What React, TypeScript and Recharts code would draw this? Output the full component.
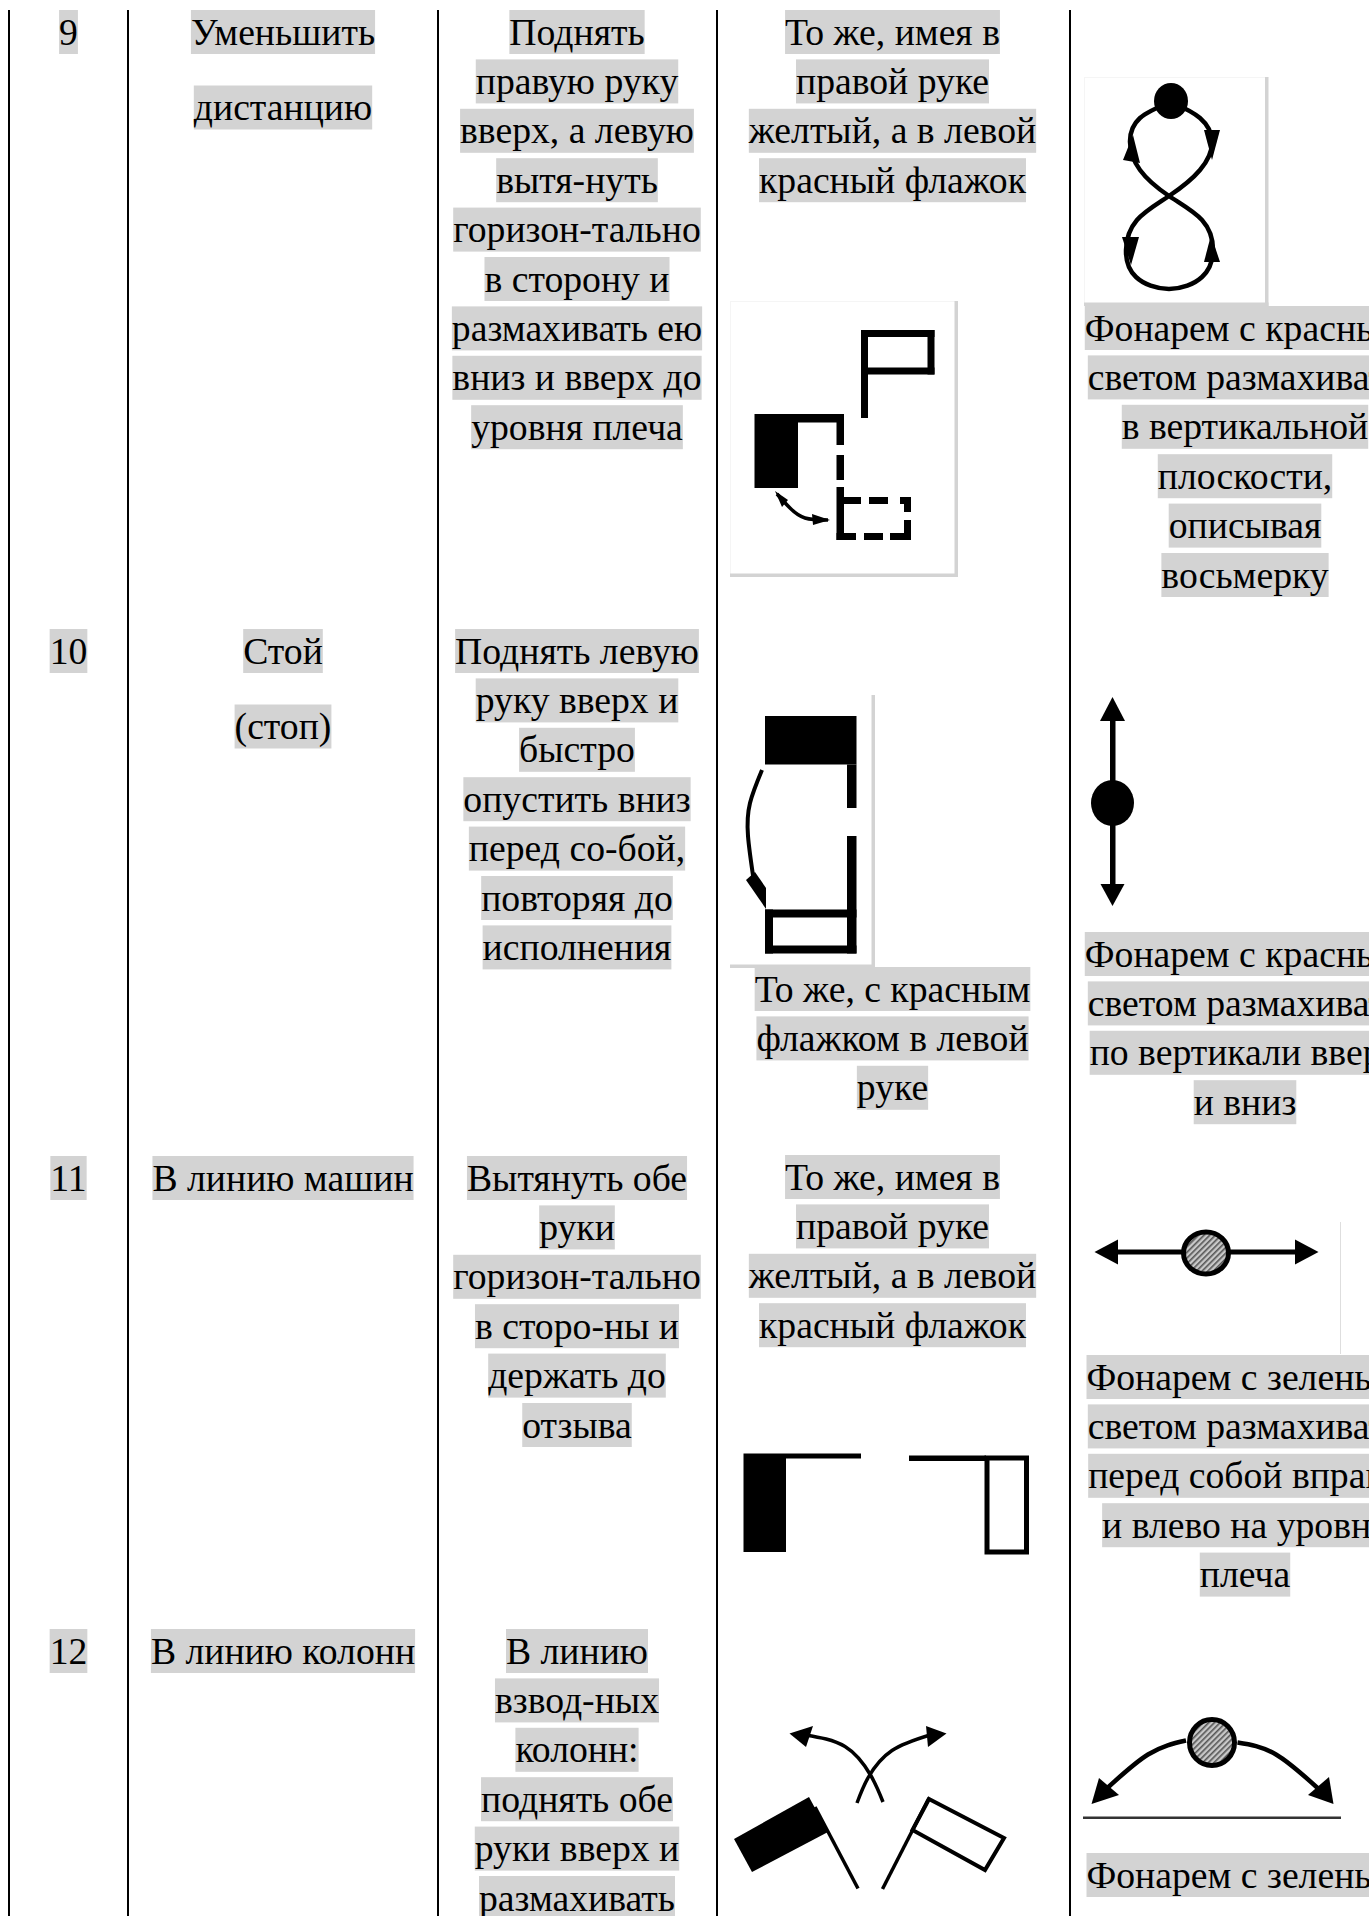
import { ComposedChart, Curve, ReferenceLine, Scatter, XAxis, YAxis } from "recharts";

const WIDTH = 1369;
const HEIGHT = 1916;
const FONT_SIZE = 37.7;
const FONT = `${FONT_SIZE}px "Liberation Serif"`;
const BOX_HEIGHT = 44;
const LINE_PITCH = 49.4;
const NAME_PITCH = 75.5;

// table text
const rowNumbers = ["9", "10", "11", "12"];
const signalNames = [
  ["Уменьшить", "дистанцию"],
  ["Стой", "(стоп)"],
  ["В линию машин"],
  ["В линию колонн"],
];
const handSignals = [
  ["Поднять", "правую руку", "вверх, а левую", "вытя-нуть", "горизон-тально", "в сторону и", "размахивать ею", "вниз и вверх до", "уровня плеча"],
  ["Поднять левую", "руку вверх и", "быстро", "опустить вниз", "перед со-бой,", "повторяя до", "исполнения"],
  ["Вытянуть обе", "руки", "горизон-тально", "в сторо-ны и", "держать до", "отзыва"],
  ["В линию", "взвод-ных", "колонн:", "поднять обе", "руки вверх и", "размахивать"],
];
const flagSignals = [
  ["То же, имея в", "правой руке", "желтый, а в левой", "красный флажок"],
  ["То же, с красным", "флажком в левой", "руке"],
  ["То же, имея в", "правой руке", "желтый, а в левой", "красный флажок"],
];
const lanternSignals = [
  ["Фонарем с красным", "светом размахивать", "в вертикальной", "плоскости,", "описывая", "восьмерку"],
  ["Фонарем с красным", "светом размахивать", "по вертикали вверх", "и вниз"],
  ["Фонарем с зеленым", "светом размахивать", "перед собой вправо", "и влево на уровне", "плеча"],
  ["Фонарем с зеленым"],
];

// layout
const columnEdges = [9, 128, 438, 717, 1070];
const columnCenters = [68.5, 283, 577, 892.5, 1245];
const rowTops = [10, 629, 1156, 1629];
const flagTops = [10, 967, 1155];
const lanternTops = [306, 932, 1355, 1853];

const measure = document.createElement("canvas").getContext("2d")!;

type TextLine = { x: number; y: number; text: string };

const placeLines = (x: number, top: number, lines: string[], pitch = LINE_PITCH): TextLine[] =>
  lines.map((text, i) => ({ x, y: top + i * pitch, text }));

const textLines: TextLine[] = [
  ...rowNumbers.flatMap((n, i) => placeLines(columnCenters[0], rowTops[i], [n])),
  ...signalNames.flatMap((l, i) => placeLines(columnCenters[1], rowTops[i], l, NAME_PITCH)),
  ...handSignals.flatMap((l, i) => placeLines(columnCenters[2], rowTops[i], l)),
  ...flagSignals.flatMap((l, i) => placeLines(columnCenters[3], flagTops[i], l)),
  ...lanternSignals.flatMap((l, i) => placeLines(columnCenters[4], lanternTops[i], l)),
];

const CellLine = (props: any) => {
  const { cx, cy, payload } = props;
  measure.font = FONT;
  const w = measure.measureText(payload.text).width;
  return (
    <g>
      <rect x={cx - w / 2} y={cy} width={w} height={BOX_HEIGHT} fill="#d3d3d3" />
      <text
        x={cx}
        y={cy + 34.5}
        textAnchor="middle"
        fontFamily='"Liberation Serif"'
        fontSize={FONT_SIZE}
        fill="#000"
      >
        {payload.text}
      </text>
    </g>
  );
};

const Arc = ({ pts, w = 4 }: { pts: number[][]; w?: number }) => (
  <Curve
    type="natural"
    points={pts.map(([x, y]) => ({ x, y }))}
    fill="none"
    stroke="#000"
    strokeWidth={w}
  />
);

const Head = ({ pts }: { pts: number[][] }) => (
  <polygon points={pts.map((p) => p.join(",")).join(" ")} fill="#000" />
);

const Frame = ({ l, t, r, b, w = 3.5, hairline = true }: { l: number; t: number; r: number; b: number; w?: number; hairline?: boolean }) => (
  <g>
    {hairline && <rect x={l} y={t} width={r - l} height={1} fill="#f5f5f5" />}
    {hairline && <rect x={l} y={t} width={1} height={b - t} fill="#f5f5f5" />}
    <rect x={r - w} y={t} width={w} height={b - t} fill="#d3d3d3" />
    <rect x={l} y={b - w} width={r - l} height={w} fill="#d3d3d3" />
  </g>
);

const Blocks = ({ items }: { items: number[][] }) => (
  <g fill="#000">
    {items.map(([l, t, r, b], i) => (
      <rect key={i} x={l} y={t} width={r - l} height={b - t} />
    ))}
  </g>
);

// the little signal drawings that sit inside the table cells
const Pictograms = (props: any) => (
  <g transform={`translate(${props.cx},${props.cy})`}>
    <defs>
      <pattern id="hatch" width="4" height="4" patternUnits="userSpaceOnUse" patternTransform="rotate(45)">
        <rect width="4" height="4" fill="#c8c8c8" />
        <rect width="1.6" height="4" fill="#555" />
      </pattern>
    </defs>

    {/* row 9, flags */}
    <Frame l={730} t={301} r={958} b={577} />
    <Blocks
      items={[
        [861, 330, 868, 418],
        [861, 330, 934.5, 337],
        [861, 367.5, 934.5, 374.5],
        [927.5, 330, 934.5, 374.5],
        [754.5, 414, 798, 488],
        [798, 414, 844, 422.5],
        [836.5, 414, 844, 445],
        [836.5, 455, 844, 480],
        [836.5, 487, 844, 540],
        [844, 497, 861, 504],
        [869, 497, 888, 504],
        [900, 497, 911, 504],
        [904, 497, 911, 512],
        [904, 520, 911, 540],
        [836.5, 533, 856, 540],
        [864, 533, 883, 540],
        [890, 533, 911, 540],
      ]}
    />
    <Arc pts={[[777, 494], [790, 508], [805, 518], [828, 520]]} w={3.5} />
    <Head pts={[[775, 491], [788, 500], [782, 507]]} />
    <Head pts={[[830, 520], [812, 514], [813, 525]]} />

    {/* row 9, lantern figure eight */}
    <Frame l={1084} t={77} r={1268.5} b={306} />
    <Arc
      pts={[[1171, 102], [1140, 118], [1130, 142], [1140, 170], [1169, 196], [1202, 220], [1213, 250], [1202, 277], [1169, 289], [1136, 277], [1126, 250], [1137, 220], [1169, 196], [1200, 170], [1212, 142], [1200, 118], [1171, 102]]}
      w={4.5}
    />
    <ellipse cx={1171} cy={101} rx={17} ry={18} fill="#000" />
    <Head pts={[[1133, 135], [1123, 160], [1140, 163]]} />
    <Head pts={[[1204, 130], [1220, 130], [1212, 160]]} />
    <Head pts={[[1122, 237], [1139, 237], [1131, 265]]} />
    <Head pts={[[1211, 235], [1204, 262], [1220, 262]]} />

    {/* row 10, flags */}
    <Frame l={730} t={695} r={875} b={968} hairline={false} />
    <Blocks
      items={[
        [765, 716, 856.5, 764.5],
        [847, 764.5, 856.5, 808],
        [847, 836, 856.5, 953.5],
        [765, 909.5, 856.5, 917.5],
        [765, 945.5, 856.5, 953.5],
        [765, 909.5, 773, 953.5],
      ]}
    />
    <Arc pts={[[762, 770], [750, 803], [748, 836], [754, 882]]} w={4} />
    <Head pts={[[746, 880], [755, 872], [766, 888], [766, 909]]} />

    {/* row 10, lantern up and down */}
    <Blocks items={[[1110, 715, 1115.5, 890]]} />
    <Head pts={[[1112.5, 697], [1100, 721], [1125, 721]]} />
    <Head pts={[[1112.5, 906], [1100.5, 884], [1124.5, 884]]} />
    <ellipse cx={1112.5} cy={803} rx={21.5} ry={23} fill="#000" />

    {/* row 11, lantern left and right */}
    <Blocks items={[[1115, 1249.5, 1298, 1254.5]]} />
    <Head pts={[[1094.5, 1252], [1118, 1239.5], [1118, 1264.5]]} />
    <Head pts={[[1318.5, 1252], [1295, 1239.5], [1295, 1264.5]]} />
    <ellipse cx={1206} cy={1253} rx={22.5} ry={21} fill="url(#hatch)" stroke="#000" strokeWidth={5} />
    <rect x={1340} y={1222} width={1} height={132} fill="#dedede" />

    {/* row 11, flags */}
    <Blocks
      items={[
        [743.5, 1453.5, 786, 1552],
        [786, 1453.5, 861, 1458.5],
        [909, 1455.5, 986, 1461],
      ]}
    />
    <rect x={987} y={1458} width={39.5} height={94} fill="none" stroke="#000" strokeWidth={5} />

    {/* row 12, flags */}
    <Head pts={[[734, 1839], [809, 1797], [828, 1832], [752, 1872]]} />
    <line x1={815} y1={1807} x2={858} y2={1888.5} stroke="#000" strokeWidth={3.5} />
    <polygon points="929,1799 1004,1838 985,1870 912.5,1830" fill="none" stroke="#000" strokeWidth={4} />
    <line x1={929} y1={1798} x2={882.5} y2={1889} stroke="#000" strokeWidth={3.5} />
    <Arc pts={[[883, 1802], [870.5, 1775], [845, 1746.5], [805, 1735]]} w={3.5} />
    <Head pts={[[789.5, 1733.5], [813, 1726], [806, 1747]]} />
    <Arc pts={[[857, 1803], [868.5, 1777], [892, 1750.5], [930, 1735]]} w={3.5} />
    <Head pts={[[946.5, 1733.5], [926, 1726], [928, 1747]]} />

    {/* row 12, lantern arc */}
    <Arc pts={[[1186, 1740.5], [1148, 1754.5], [1103, 1792]]} w={4.5} />
    <Arc pts={[[1237.5, 1742.5], [1276, 1754.5], [1322, 1792]]} w={4.5} />
    <Head pts={[[1091.5, 1804], [1099, 1778], [1119, 1795]]} />
    <Head pts={[[1333.5, 1804], [1329, 1777], [1308, 1795]]} />
    <ellipse cx={1212} cy={1742.5} rx={22.5} ry={23} fill="url(#hatch)" stroke="#000" strokeWidth={5} />
    <rect x={1083} y={1816.5} width={258} height={2.5} fill="#333" />
  </g>
);

export default function App() {
  return (
    <div style={{ position: "absolute", left: 0, top: 0, width: WIDTH, height: HEIGHT, background: "#fff" }}>
      <ComposedChart width={WIDTH} height={HEIGHT} margin={{ top: 0, right: 0, bottom: 0, left: 0 }}>
        <XAxis type="number" dataKey="x" domain={[0, WIDTH]} hide />
        <YAxis type="number" dataKey="y" domain={[0, HEIGHT]} reversed hide />
        {columnEdges.map((x) => (
          <ReferenceLine
            key={x}
            segment={[{ x, y: 10 }, { x, y: HEIGHT }]}
            stroke="#000"
            strokeWidth={2}
          />
        ))}
        <Scatter data={[{ x: 0, y: 0 }]} shape={Pictograms} isAnimationActive={false} />
        <Scatter data={textLines} shape={CellLine} isAnimationActive={false} />
      </ComposedChart>
    </div>
  );
}
